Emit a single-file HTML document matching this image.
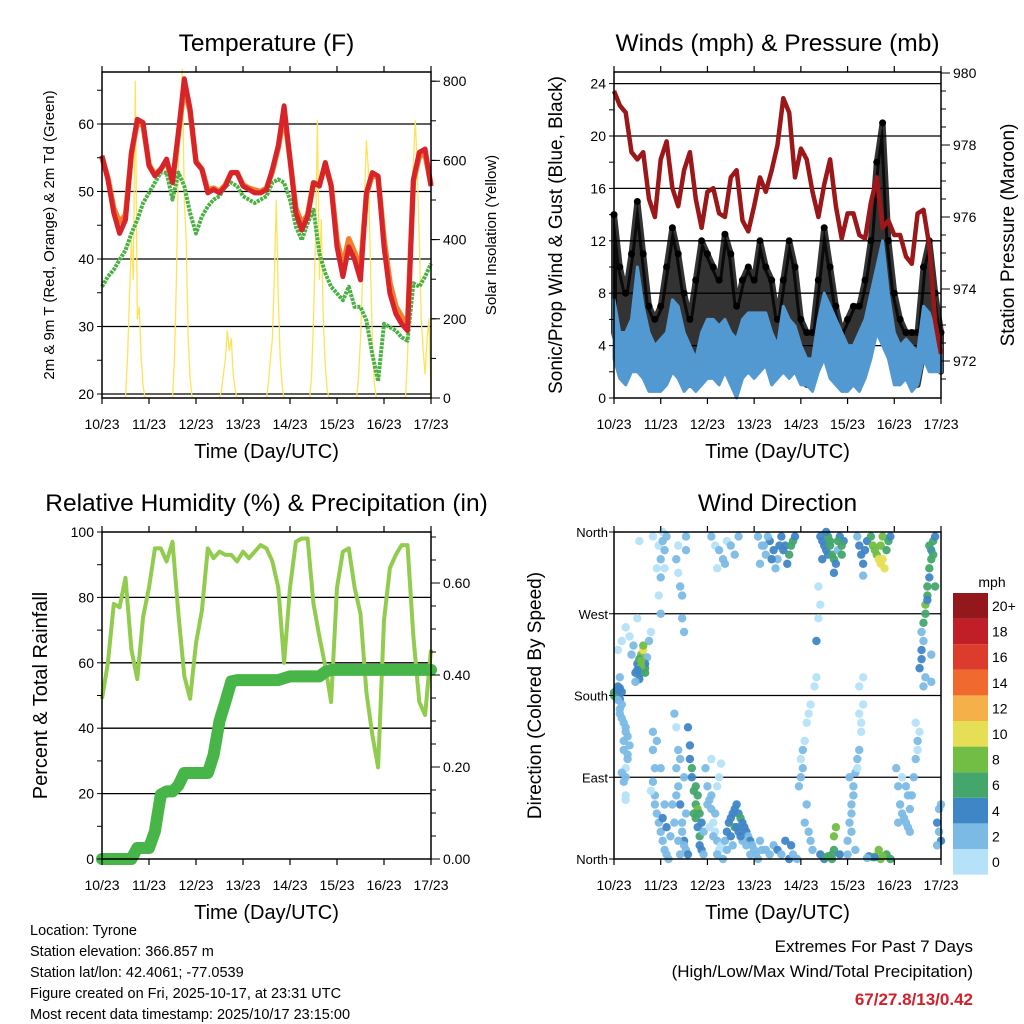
<!DOCTYPE html>
<html><head><meta charset="utf-8"><style>
html,body{margin:0;padding:0;background:#fff;}
svg{display:block;font-family:"Liberation Sans",sans-serif;}
</style></head><body>
<svg id="c" width="1024" height="1024" viewBox="0 0 1024 1024" xmlns="http://www.w3.org/2000/svg">
<rect width="1024" height="1024" fill="#fff"/>
<g id="g1"></g>
<g id="g2"></g>
<g id="g3"></g>
<g id="g4"></g>
<g font-size="14.5" fill="#000">
<text x="30" y="935">Location: Tyrone</text>
<text x="30" y="956">Station elevation: 366.857 m</text>
<text x="30" y="977">Station lat/lon: 42.4061; -77.0539</text>
<text x="30" y="998">Figure created on Fri, 2025-10-17, at 23:31 UTC</text>
<text x="30" y="1019">Most recent data timestamp: 2025/10/17 23:15:00</text>
</g>
<g text-anchor="end">
<text x="973" y="952" font-size="17">Extremes For Past 7 Days</text>
<text x="973" y="977" font-size="17">(High/Low/Max Wind/Total Precipitation)</text>
<text x="973" y="1005" font-size="17" font-weight="bold" fill="#d0202a">67/27.8/13/0.42</text>
</g>
</svg>
<script>
const hours3 = [0,3,6,9,12,15,18,21,24,27,30,33,36,39,42,45,48,51,54,57,60,63,66,69,72,75,78,81,84,87,90,93,96,99,102,105,108,111,114,117,120,123,126,129,132,135,138,141,144,147,150,153,156,159,162,165,168];
const dayLabels = ["10/23","11/23","12/23","13/23","14/23","15/23","16/23","17/23"];
const temp2m = [55.3,51.8,46.8,43.8,45.8,55.8,60.7,60.2,53.8,52.3,53.3,54.8,51.3,58.8,66.7,62.2,54.3,53.3,49.8,50.3,49.8,50.8,52.8,52.8,50.8,50.3,49.8,49.8,50.3,53.3,56.8,62.7,54.8,46.8,44.3,46.3,51.3,50.8,54.3,50.8,41.8,37.4,41.8,39.9,36.9,49.8,52.8,52.3,41.8,34.9,31.9,30.4,29.4,51.8,55.8,56.3,50.8];
const temp9m = [55.0,52.0,47.5,45.5,46.5,55.5,60.2,59.8,54.0,52.5,53.3,54.5,51.5,58.5,65.5,61.8,54.5,53.3,50.2,50.5,50.0,51.0,52.8,52.8,51.0,50.5,50.2,50.0,50.5,53.0,56.5,61.5,54.8,47.5,45.3,46.5,51.3,51.0,54.0,51.0,42.8,39.0,43.0,41.0,38.5,49.5,52.5,52.0,43.0,36.5,33.0,31.5,30.2,51.5,55.2,55.5,51.0];
const dewpoint = [35.9,37.4,38.4,39.9,41.3,43.8,45.8,48.3,49.8,51.3,52.8,52.8,48.8,52.8,50.8,46.8,43.8,46.3,47.8,48.8,49.3,50.8,51.3,50.8,49.3,48.8,48.3,48.8,49.3,51.3,51.8,51.3,48.8,44.8,42.8,45.3,47.3,40.8,37.9,35.9,34.9,33.9,35.9,32.9,32.9,30.9,25.9,21.9,30.4,29.9,29.4,28.4,27.9,36.4,35.9,37.4,39.3];
const solarHours = [0,12,13,14,15,16,17,18,19,20,21,22,36,37,38,39,40,41,42,43,44,45,46,60,61,62,63,64,65,66,67,68,69,70,84,85,86,87,88,89,90,91,92,93,94,106,107,108,109,110,111,112,113,114,115,116,117,130,131,132,133,134,135,136,137,138,139,140,141,155,156,157,158,159,160,161,162,163,164,165,166,167,168];
const solarVals  = [0,0,100,250,400,300,800,200,230,100,30,0,0,100,300,600,700,830,500,400,150,50,0,0,20,60,100,170,120,150,60,20,0,0,0,40,100,150,300,500,250,100,30,0,0,0,50,200,400,700,300,450,200,80,20,0,0,0,50,150,300,500,650,580,350,150,40,0,0,0,100,300,500,600,700,580,400,200,120,60,150,200,0];
const pressure = [979.5,979.1,978.9,977.8,977.6,977.8,976.5,976.0,977.6,978.1,976.8,976.3,977.3,977.8,976.5,975.7,976.7,976.8,976.1,976.0,977.1,977.3,975.9,975.6,976.3,977.1,976.7,977.3,978.0,979.3,978.9,977.1,977.9,977.6,976.7,976.0,976.9,977.6,976.3,975.4,976.1,976.1,975.5,975.4,976.4,977.1,975.7,975.9,975.5,975.5,974.9,974.7,976.1,976.2,975.2,973.1,972.2];
const windLo = [3,1.5,1,2,2,1.5,0.5,0.5,0.5,1,2,1.5,0.5,1,0.5,1,1.5,1.5,1,2,1,0,1.5,2,1.5,2,2.5,1,1.5,2,1.5,2,1,1,0.5,2,3,1.5,1,0.5,0.5,1,0.5,1.5,3,5,4,3,1,1,1.5,0.5,1,3,2,2,2];
const windHi = [7.5,5,5,6,10,7,5,4,4.5,5,7.5,7,5,4,3,5,6,6,5.5,6,5,4.5,6,6.5,6.5,6.5,6.5,5,4,7,6,5.5,4,3,3,6,8,7,6,5,4,4,5,6,8,10,12,8,5,4,4.5,4,3.5,7,6.5,5,4];
const gustLo = [5,3,2,3,4,3,2,1.5,1.5,2,3,3,1.5,1,2,3,3,3,3,3.5,3,1,3,3.5,3,3,3.5,2,2,3,3.5,3.5,2,1,1,3,4,3,2,1,1,2,1,3,4.5,6,7,5,2,2,2,1,1,3.5,4.5,3,2];
const gustHi = [14,10,8,11,15,11,7,6,7,10,13,11,8,6,9,12,11,10,9,12.5,11,7,9,10,9,12,10,9,6,9,12,10,6,5,5,9,13,10,7,5,6,7,7,9,12,18,21,12,8,6,5,5,5,10,12,8,5];
const rh = [49,60,78,77,86,64,55,74,83,95,95,91,97,75,56,49,66,76,95,92,94,93,93,91,94,92,94,96,95,91,83,60,83,97,98,98,78,68,59,48,83,94,95,83,75,51,38,28,73,89,93,96,96,68,48,44,64];
const precip = [0,0,0,0,0,0,0.024,0.024,0.024,0.06,0.14,0.147,0.147,0.16,0.187,0.187,0.187,0.187,0.187,0.226,0.30,0.342,0.386,0.389,0.389,0.389,0.389,0.389,0.389,0.389,0.389,0.393,0.397,0.397,0.397,0.397,0.397,0.397,0.407,0.411,0.411,0.411,0.411,0.411,0.411,0.411,0.411,0.411,0.411,0.411,0.411,0.411,0.411,0.411,0.411,0.411,0.411];
const dirHour = [
0,1,2,3,1,2,3,4,0,2, 2,3,4,5,6,7,8,5,7,6, 5,6,6,4,3,6,5,7,4,6, 3,2,4,8,10,9,12,13,14,15,
15,16,14,11,17,18,19,16,13,14, 12,13,20,6,15,14,16,13,12,11, 23,24,24,23,24,25,26,26,25,27, 22,32,33,34,35,35,36,33,37,37,
20,20,21,20,21,22,23,24,25,26, 27,28,29,22,24,19,21,25,27,26, 31,32,33,32,33,34,35,36,37,38, 36,34,30,31,33,35,37,32,34,36,
38,39,39,40,41,42,42,43,44,44, 43,41,45,46,40,42,45,46,43,44, 47,48,49,50,51,52,53,54,54,55, 53,48,50,52,51,53,56,49,55,50,
57,58,59,60,61,62,63,64,65,66, 67,68,69,70,71,72,73,74,60,62, 64,66,68,70,75,76,58,61,63,65, 78,80,82,84,86,88,90,91,92,94,
50,52,54,56,58,60,62,64,53,57, 74,76,78,80,82,84,86,88,90,92, 75,77,79,81,83,85,87,89,91,93, 95,96,97,96,98,99,100,101,99,98,
100,101,102,97,103,104,104,105,106,105, 106,108,110,112,113,113,114,112,116,109, 106,107,108,109,110,110,111,112,113,114, 115,116,118,117,113,109,111,107,115,117,
120,121,122,123,124,125,126,127,128,121, 123,125,126,127,122,124,120,126,128,122, 125,126,127,128,129,130,132,133,134,135, 136,137,137,138,139,138,140,141,142,128,
131,133,135,136,137,140,142,134,138,130, 145,146,147,148,149,150,151,152,153,154, 155,156,148,150,152,155,157,156,146,151, 157,158,158,159,159,160,160,161,161,162,
162,163,163,164,165,160,163,166,167,168, 167,168,166,162,164,161,158,165,163,159];
const dirDeg = [
183,185,180,188,178,190,176,184,180,186, 175,165,155,150,140,135,125,120,110,100, 85,70,65,95,160,145,130,115,170,90, 200,230,240,245,235,225,215,210,225,230,
215,210,205,205,222,240,250,215,220,212, 265,350,355,255,235,218,205,198,208,195, 345,330,310,290,270,350,340,320,360,355, 320,330,315,300,290,265,250,345,355,340,
140,120,100,85,70,50,40,30,20,10, 5,0,25,130,100,75,60,45,35,60, 160,145,120,100,80,60,40,20,10,5, 90,110,60,40,20,30,50,70,5,15,
145,125,110,90,75,60,45,35,25,15, 55,50,10,5,100,80,40,30,70,50, 100,80,65,55,40,30,20,10,90,105, 80,60,70,50,25,5,0,35,15,110,
20,30,40,45,50,55,60,50,45,40, 35,30,25,20,15,10,5,0,25,35, 30,20,15,5,20,10,10,15,35,25, 10,5,15,10,5,20,0,15,5,0,
355,345,340,330,350,345,335,355,320,325, 355,345,335,350,340,330,355,345,335,350, 325,345,355,330,320,345,340,325,345,355, 80,90,100,110,130,150,160,170,60,40,
30,20,10,120,190,200,240,265,280,300, 5,0,3,0,10,25,35,5,5,2, 355,350,345,340,335,355,345,335,330,325, 340,355,350,345,315,360,350,330,350,335,
20,40,60,80,95,110,120,140,170,90, 70,100,160,150,30,10,5,190,200,50, 355,345,335,325,340,350,355,345,340,335, 330,325,345,330,320,355,340,350,355,312,
3,2,5,10,0,5,0,2,3,1, 100,80,60,50,45,40,35,55,70,90, 110,130,90,80,30,150,140,120,40,70, 210,220,230,240,260,270,280,290,300,310,
320,330,340,350,355,200,195,40,55,20, 30,60,15,345,335,285,250,300,225,190];
const dirSpeed = [
6,6,5,4,6,5,4,5,6,4, 3,2,3,2,2,2,2,2,2,1, 2,1,1,2,3,2,3,2,2,2, 3,1,1,0,2,3,4,6,8,10,
8,6,5,4,3,2,1,4,7,8, 1,1,1,1,9,8,6,5,4,3, 1,2,2,1,2,2,2,1,1,2, 1,2,1,2,2,2,2,1,3,2,
2,2,2,2,2,2,3,2,2,2, 3,2,3,3,2,1,3,4,4,2, 2,1,3,3,3,4,3,4,2,4, 2,3,2,2,3,3,2,2,3,3,
4,4,4,5,6,6,6,5,6,5, 8,6,4,3,6,6,4,3,6,7, 2,2,2,2,1,1,2,1,0,0, 0,3,3,3,2,3,2,1,1,0,
3,4,4,5,4,5,4,5,6,4, 5,4,3,4,3,2,2,2,4,6, 4,3,2,2,2,2,2,3,5,4, 2,3,3,4,3,4,4,4,3,3,
2,1,2,2,1,2,2,3,1,2, 2,3,3,4,4,3,5,4,6,7, 2,2,3,4,3,4,5,4,6,4, 2,2,2,1,1,1,1,0,2,2,
2,2,2,2,1,1,4,1,1,1, 4,5,6,6,7,8,8,6,4,6, 4,4,5,4,5,6,6,7,6,4, 3,5,4,6,5,4,6,4,7,6,
2,3,2,2,2,2,2,1,1,2, 2,1,1,1,2,2,2,1,1,2, 3,4,4,4,4,5,6,8,8,9, 10,10,9,11,10,8,7,6,4,2,
4,6,10,9,8,7,6,4,8,3, 2,2,2,2,2,2,2,2,2,2, 2,2,1,2,3,1,1,1,3,2, 4,4,4,3,6,6,8,7,6,4,
6,6,4,6,4,3,2,4,3,4, 3,3,2,6,7,5,3,6,2,3];
const speedColors = ["#b5e2f8","#7cbae6","#3f86c6","#45a66b","#72be45","#e6df55","#f5b04a","#ef6a2c","#dd3b2b","#c11f27","#93171b"];
const speedLabels = ["0","2","4","6","8","10","12","14","16","18","20+"];

const NS="http://www.w3.org/2000/svg";
function mk(parent,tag,attrs,txt){const e=document.createElementNS(NS,tag);for(const k in attrs)e.setAttribute(k,attrs[k]);if(txt!==undefined)e.textContent=txt;parent.appendChild(e);return e;}
function linePath(xs,ys){return xs.map((x,i)=>(i?"L":"M")+x.toFixed(1)+","+ys[i].toFixed(1)).join("");}

function frame(g,P,o){
  o.grid.forEach(v=>{const y=o.ly(v);const l=mk(g,"line",{x1:P.x0,x2:P.x1,y1:y,y2:y,stroke:"#000","stroke-width":1.3});
    
    });
}
function axes(g,P,o){
  const r=mk(g,"rect",{x:P.x0,y:P.y0,width:P.x1-P.x0,height:P.y1-P.y0,fill:"none",stroke:"#000","stroke-width":1.5});
  
  
  const xs=h=>P.x0+h/168*(P.x1-P.x0);
  dayLabels.forEach((lab,i)=>{const x=xs(i*24);
    mk(g,"line",{x1:x,x2:x,y1:P.y1,y2:P.y1+6,stroke:"#000","stroke-width":1.2});
    mk(g,"line",{x1:x,x2:x,y1:P.y0,y2:P.y0-6,stroke:"#000","stroke-width":1.2});
    const t=mk(g,"text",{x:x,y:P.y1+31,"font-size":14,"text-anchor":"middle"},lab);
    
    });
  const xt=mk(g,"text",{x:(P.x0+P.x1)/2,y:P.y1+60,"font-size":20,"text-anchor":"middle"},"Time (Day/UTC)");
  
  
  o.lticks.forEach(v=>{const y=o.ly(v);mk(g,"line",{x1:P.x0-5,x2:P.x0,y1:y,y2:y,stroke:"#000","stroke-width":1});});
  o.llabels.forEach((lab,i)=>{const y=o.ly(o.lvals[i]);
    const t=mk(g,"text",{x:P.x0-8,y:y+5,"font-size":14,"text-anchor":"end"},lab);
    
    });
  if(o.rticks){o.rticks.forEach(v=>{const y=o.ry(v);mk(g,"line",{x1:P.x1,x2:P.x1+5,y1:y,y2:y,stroke:"#000","stroke-width":1});});
    o.rlabels.forEach((lab,i)=>{const y=o.ry(o.rvals[i]);
      mk(g,"line",{x1:P.x1,x2:P.x1+9,y1:y,y2:y,stroke:"#000","stroke-width":1});
      const t=mk(g,"text",{x:P.x1+12,y:y+5,"font-size":14},lab);
      
      });}
  const tt=mk(g,"text",{x:(P.x0+P.x1)/2,y:P.y0-21,"font-size":24.5,"text-anchor":"middle"},o.title);
  
  
  const la=mk(g,"text",{x:0,y:0,"font-size":o.lfs,"text-anchor":"middle",transform:`translate(${o.lx},${(P.y0+P.y1)/2}) rotate(-90)`},o.ltitle);
  
  
  if(o.rtitle){const ra=mk(g,"text",{x:0,y:0,"font-size":o.rfs,"text-anchor":"middle",transform:`translate(${o.rx},${(P.y0+P.y1)/2}) rotate(-90)`},o.rtitle);
    
    }
  return xs;
}
function range(a,b,s){const r=[];for(let v=a;v<=b+1e-9;v+=s)r.push(+v.toFixed(4));return r;}

(function(){
  const g=document.getElementById("g1");const P={x0:102,x1:431,y0:72,y1:398};
  const ty=T=>394-(T-20)*6.75, sy=S=>398-S*0.396;
  const xs=h=>P.x0+h/168*(P.x1-P.x0);
  frame(g,P,{grid:[20,30,40,50,60],ly:ty});
  const sol=mk(g,"path",{d:linePath(solarHours.map(xs),solarVals.map(sy)),fill:"none",stroke:"#fde35a","stroke-width":1.3,"stroke-linejoin":"round"});
  
  
  const dp=mk(g,"path",{d:linePath(hours3.map(xs),dewpoint.map(ty)),fill:"none",stroke:"#4bb144","stroke-width":4,"stroke-dasharray":"3 1","stroke-linejoin":"round"});
  
  
  const t9=mk(g,"path",{d:linePath(hours3.map(xs),temp9m.map(ty)),fill:"none",stroke:"#f47e2a","stroke-width":5.5,"stroke-linejoin":"round"});
  
  
  const t2=mk(g,"path",{d:linePath(hours3.map(xs),temp2m.map(ty)),fill:"none",stroke:"#d7242a","stroke-width":5,"stroke-linejoin":"round"});
  
  
  axes(g,P,{title:"Temperature (F)",ly:ty,lticks:range(20,65,5),lvals:[20,30,40,50,60],llabels:["20","30","40","50","60"],
    ry:sy,rticks:range(0,800,100),rvals:[0,200,400,600,800],rlabels:["0","200","400","600","800"],
    ltitle:"2m & 9m T (Red, Orange) & 2m Td (Green)",lx:54,lfs:15,rtitle:"Solar Insolation (Yellow)",rx:496,rfs:15});
})();

(function(){
  const g=document.getElementById("g2");const P={x0:614,x1:941,y0:72,y1:398};
  const wy=v=>398-v*13.1, py=p=>361-(p-972)*36;
  const xs=h=>P.x0+h/168*(P.x1-P.x0);
  frame(g,P,{grid:[4,8,12,16,20,24],ly:wy});
  const gb=mk(g,"path",{d:linePath(hours3.map(xs).concat(hours3.map(xs).reverse()),gustHi.map(wy).concat(gustLo.map(wy).reverse()))+"Z",fill:"#000","fill-opacity":0.8,stroke:"#000","stroke-opacity":0.8,"stroke-width":6,"stroke-linejoin":"round"});
  
  
  hours3.forEach((h,i)=>{const c=mk(g,"circle",{cx:xs(h),cy:wy(gustHi[i]),r:3.5,fill:"#000"});
    
    });
  const wb=mk(g,"path",{d:linePath(hours3.map(xs).concat(hours3.map(xs).reverse()),windHi.map(wy).concat(windLo.map(wy).reverse()))+"Z",fill:"#5298d1",stroke:"#5298d1","stroke-width":3,"stroke-linejoin":"round"});
  
  
  const pl=mk(g,"path",{d:linePath(hours3.map(xs),pressure.map(py)),fill:"none",stroke:"#9b1719","stroke-width":4.5,"stroke-linejoin":"round"});
  
  
  axes(g,P,{title:"Winds (mph) & Pressure (mb)",ly:wy,lticks:range(0,24,2),lvals:[0,4,8,12,16,20,24],llabels:["0","4","8","12","16","20","24"],
    ry:py,rticks:range(971.5,980,0.5),rvals:[972,974,976,978,980],rlabels:["972","974","976","978","980"],
    ltitle:"Sonic/Prop Wind & Gust (Blue, Black)",lx:562,lfs:19,rtitle:"Station Pressure (Maroon)",rx:1014,rfs:19});
})();

(function(){
  const g=document.getElementById("g3");const P={x0:102,x1:431,y0:532,y1:859};
  const ry=v=>859-v*3.27, qy=v=>859-v*460;
  const xs=h=>P.x0+h/168*(P.x1-P.x0);
  frame(g,P,{grid:[20,40,60,80],ly:ry});
  const rl=mk(g,"path",{d:linePath(hours3.map(xs),rh.map(ry)),fill:"none",stroke:"#92cc4e","stroke-width":4,"stroke-linejoin":"round"});
  
  
  const ql=mk(g,"path",{d:linePath(hours3.map(xs),precip.map(qy)),fill:"none",stroke:"#48b548","stroke-width":12,"stroke-linejoin":"round","stroke-linecap":"round"});
  
  
  axes(g,P,{title:"Relative Humidity (%) & Precipitation (in)",ly:ry,lticks:range(0,100,10),lvals:[0,20,40,60,80,100],llabels:["0","20","40","60","80","100"],
    ry:qy,rticks:range(0,0.7,0.05),rvals:[0,0.2,0.4,0.6],rlabels:["0.00","0.20","0.40","0.60"],
    ltitle:"Percent & Total Rainfall",lx:47,lfs:20});
})();

(function(){
  const g=document.getElementById("g4");const P={x0:614,x1:941,y0:532,y1:859};
  const dy=d=>859-d/360*327;
  const xs=h=>P.x0+h/168*(P.x1-P.x0);
  frame(g,P,{grid:[90,180,270],ly:dy});
  dirHour.forEach((h,i)=>{const s=dirSpeed[i];const ci=Math.min(10,Math.floor(s/2));
    const c=mk(g,"circle",{cx:xs(h),cy:dy(dirDeg[i]),r:4.2,fill:speedColors[ci],"fill-opacity":0.95});
    
    });
  const lb=["North","East","South","West","North"];
  axes(g,P,{title:"Wind Direction",ly:dy,lticks:[0,90,180,270,360],lvals:[],llabels:[],
    ltitle:"Direction (Colored By Speed)",lx:541,lfs:19});
  [0,90,180,270,360].forEach((d,i)=>{const t=mk(g,"text",{x:P.x0-6,y:dy(d)+5,"font-size":13,"text-anchor":"end"},lb[i]);
    
    });
  const cb=mk(g,"g",{});
  
  
  const bt=mk(cb,"text",{x:992,y:587,"font-size":14,"text-anchor":"middle"},"mph");
  
  
  speedColors.forEach((col,i)=>{const y=849-i*25.6;
    const r=mk(cb,"rect",{x:953,y:y,width:35,height:25.6,fill:col});
    
    
    const t=mk(cb,"text",{x:992,y:y+18,"font-size":14},speedLabels[i]);
    
    });
})();
</script>
</body></html>
